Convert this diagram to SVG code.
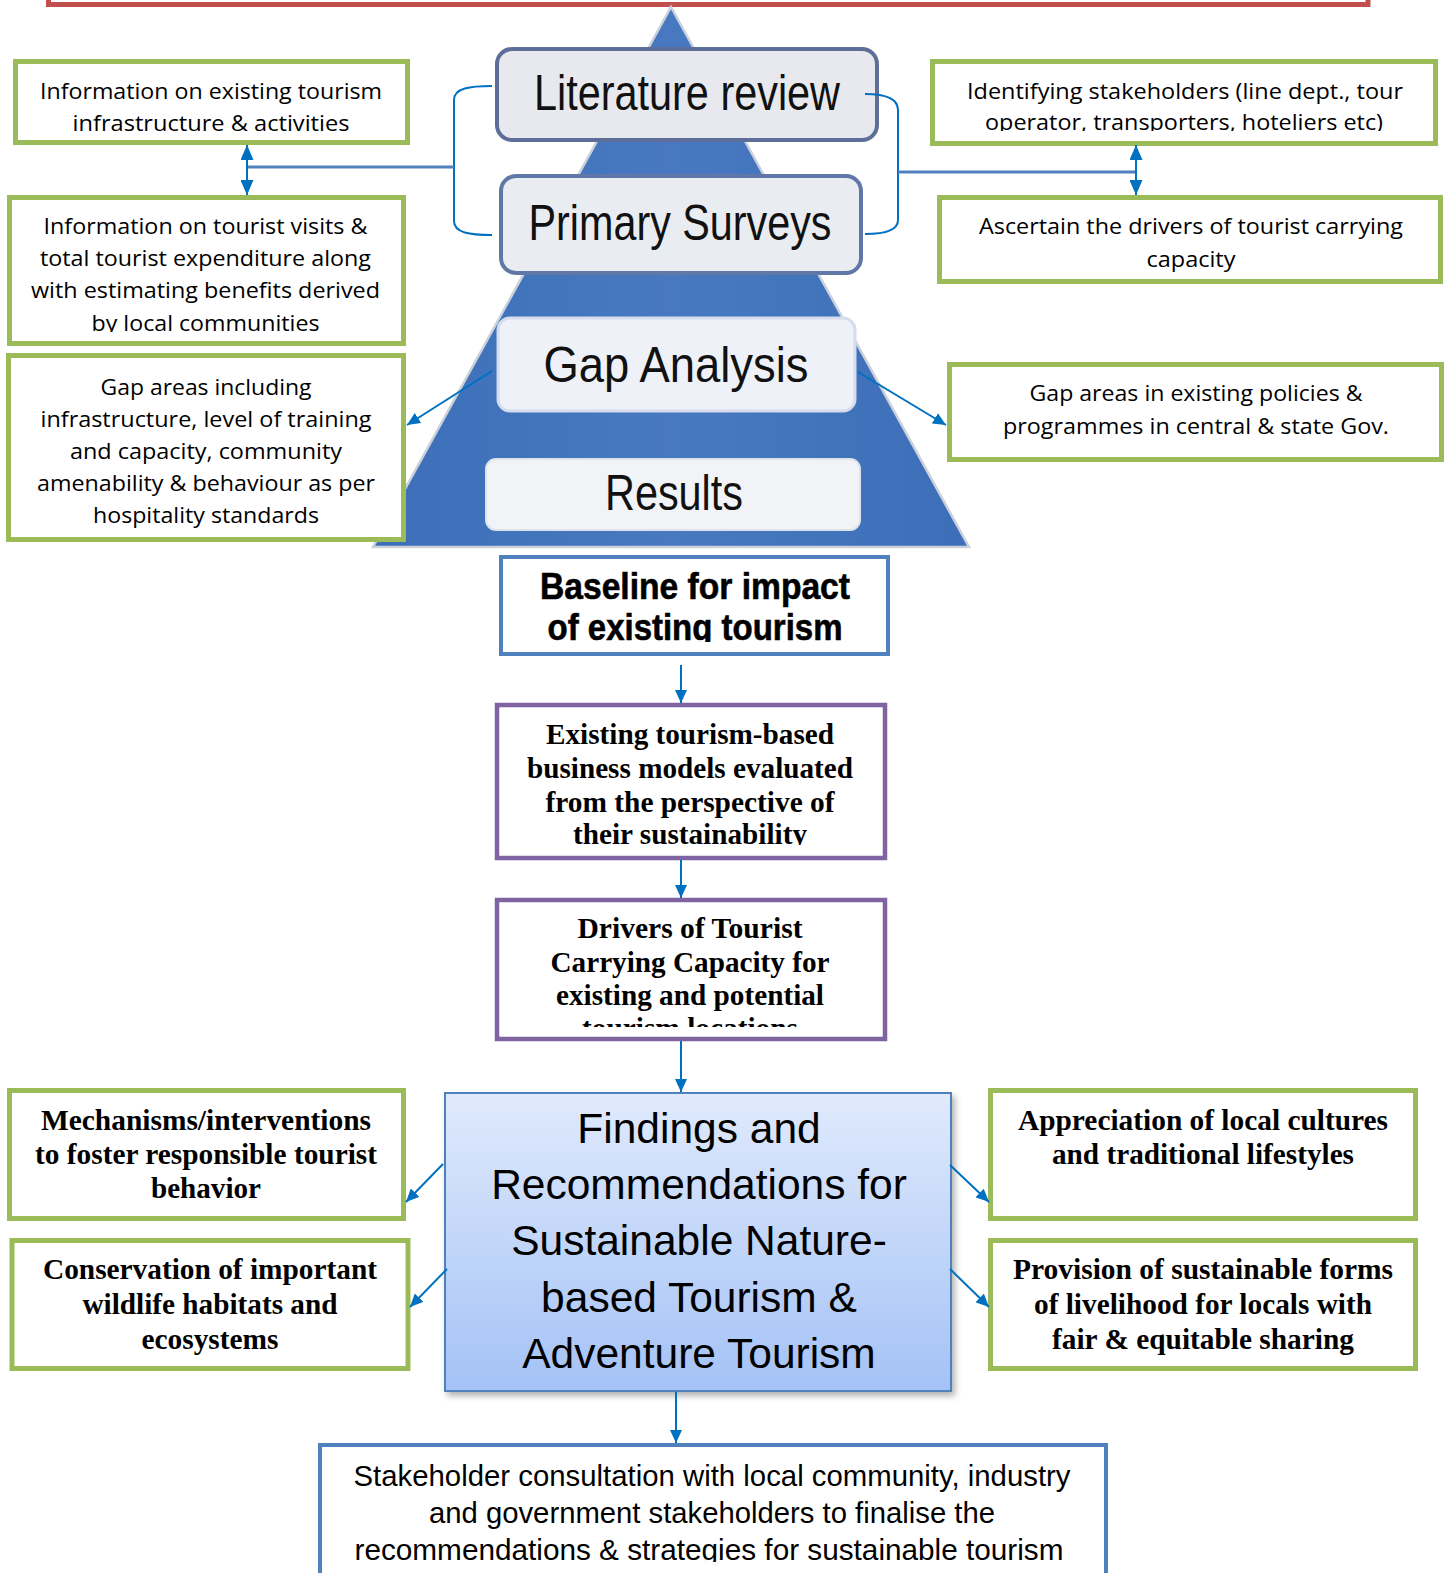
<svg xmlns="http://www.w3.org/2000/svg" width="1449" height="1573" viewBox="0 0 1449 1573">
<defs>
<style>
.g{fill:#fff;stroke:#9bbb59;stroke-width:5}
.p{fill:#fff;stroke:#8064a2;stroke-width:4.5}
.b{fill:#fff;stroke:#4f81bd;stroke-width:4}
.cal{font-family:"Open Sans","Noto Sans",sans-serif;font-size:22px;fill:#000;text-anchor:middle}
.tb{font-family:"Liberation Serif","Times New Roman",serif;font-weight:bold;font-size:30px;fill:#000;text-anchor:middle}
.ar{font-family:"Liberation Sans",Arial,sans-serif;fill:#000;text-anchor:middle}
.pyr{font-family:"Liberation Sans",Arial,sans-serif;font-size:50px;fill:#111;text-anchor:middle}
.thin{fill:none;stroke:#0070c0;stroke-width:2}
.thick{fill:none;stroke:#4f81bd;stroke-width:3}
.arr{fill:none;stroke:#0070c0;stroke-width:2;marker-end:url(#ah)}
.dbl{fill:none;stroke:#0070c0;stroke-width:2;marker-start:url(#ah2);marker-end:url(#ah2)}
</style>
<marker id="ah" markerWidth="13" markerHeight="12" refX="13" refY="6" orient="auto-start-reverse" markerUnits="userSpaceOnUse">
<path d="M0,0 L13,6 L0,12 z" fill="#0070c0"/>
</marker>
<marker id="ah2" markerWidth="15" markerHeight="13" refX="15" refY="6.5" orient="auto-start-reverse" markerUnits="userSpaceOnUse">
<path d="M0,0 L15,6.5 L0,13 z" fill="#0070c0"/>
</marker>
<linearGradient id="fg" x1="0" y1="0" x2="0" y2="1">
<stop offset="0" stop-color="#e0eafc"/>
<stop offset="1" stop-color="#a4c2f6"/>
</linearGradient>
<linearGradient id="pg" x1="0" y1="0" x2="1" y2="0">
<stop offset="0" stop-color="#3c6fb8"/>
<stop offset="0.5" stop-color="#4879c0"/>
<stop offset="1" stop-color="#3c6fb8"/>
</linearGradient>
<filter id="sh" x="-5%" y="-5%" width="115%" height="115%">
<feDropShadow dx="3" dy="4" stdDeviation="3" flood-color="#000" flood-opacity="0.3"/>
</filter>
<clipPath id="c1"><rect x="0" y="0" width="1449" height="332"/></clipPath>
<clipPath id="c2"><rect x="0" y="0" width="1449" height="131"/></clipPath>
<clipPath id="c3"><rect x="0" y="0" width="1449" height="642"/></clipPath>
<clipPath id="c4"><rect x="0" y="0" width="1449" height="845"/></clipPath>
<clipPath id="c5"><rect x="0" y="0" width="1449" height="1027"/></clipPath>
<clipPath id="c6"><rect x="0" y="0" width="1449" height="1562"/></clipPath>
</defs>

<g id="frame-top">
<rect x="48.5" y="-20" width="1319.5" height="24.5" fill="none" stroke="#c0504d" stroke-width="5"/>
</g>

<g id="pyramid">
<polygon points="671,7 373,547 969,547" fill="url(#pg)" stroke="#cbd1da" stroke-width="2.5"/>
</g>

<g id="literature-review">
<rect x="497" y="49" width="380" height="91" rx="15" fill="#e7e9ee" stroke="#5d6f98" stroke-width="4"/>
<text class="pyr" x="687" y="110" textLength="306" lengthAdjust="spacingAndGlyphs">Literature review</text>
</g>
<g id="primary-surveys">
<rect x="501" y="176" width="360" height="97" rx="15" fill="#e9ecf1" stroke="#5f78a8" stroke-width="4"/>
<text class="pyr" x="680" y="240" textLength="303" lengthAdjust="spacingAndGlyphs">Primary Surveys</text>
</g>
<g id="gap-analysis">
<rect x="498" y="318" width="357" height="93" rx="12" fill="#eef1f7" stroke="#d5dced" stroke-width="3"/>
<text class="pyr" x="676" y="382" textLength="265" lengthAdjust="spacingAndGlyphs">Gap Analysis</text>
</g>
<g id="results">
<rect x="486" y="459" width="374" height="71" rx="10" fill="#f1f3f7" stroke="#dde3ec" stroke-width="2"/>
<text class="pyr" x="674" y="510" textLength="138" lengthAdjust="spacingAndGlyphs">Results</text>
</g>

<g id="info-infrastructure">
<rect class="g" x="15.5" y="61.5" width="392" height="81"/>
<text class="cal" x="211" y="99" textLength="342" lengthAdjust="spacingAndGlyphs">Information on existing tourism</text>
<text class="cal" x="211" y="131" textLength="277" lengthAdjust="spacingAndGlyphs">infrastructure &amp; activities</text>
</g>
<g id="info-visits">
<rect class="g" x="9.5" y="197.5" width="394" height="146"/>
<text class="cal" x="205.5" y="234" textLength="324" lengthAdjust="spacingAndGlyphs">Information on tourist visits &amp;</text>
<text class="cal" x="205.5" y="266" textLength="331" lengthAdjust="spacingAndGlyphs">total tourist expenditure along</text>
<text class="cal" x="205.5" y="298" textLength="349" lengthAdjust="spacingAndGlyphs">with estimating benefits derived</text>
<text class="cal" x="205.5" y="331" textLength="228" lengthAdjust="spacingAndGlyphs" clip-path="url(#c1)">by local communities</text>
</g>
<g id="gap-areas-infra">
<rect class="g" x="8.5" y="355.5" width="395" height="184"/>
<text class="cal" x="206" y="395" textLength="211" lengthAdjust="spacingAndGlyphs">Gap areas including</text>
<text class="cal" x="206" y="427" textLength="331" lengthAdjust="spacingAndGlyphs">infrastructure, level of training</text>
<text class="cal" x="206" y="459" textLength="272" lengthAdjust="spacingAndGlyphs">and capacity, community</text>
<text class="cal" x="206" y="491" textLength="338" lengthAdjust="spacingAndGlyphs">amenability &amp; behaviour as per</text>
<text class="cal" x="206" y="523" textLength="226" lengthAdjust="spacingAndGlyphs">hospitality standards</text>
</g>
<g id="stakeholders">
<rect class="g" x="932.5" y="61.5" width="503" height="82"/>
<text class="cal" x="1185" y="99" textLength="436" lengthAdjust="spacingAndGlyphs">Identifying stakeholders (line dept., tour</text>
<text class="cal" x="1184" y="130" textLength="398" lengthAdjust="spacingAndGlyphs" clip-path="url(#c2)">operator, transporters, hoteliers etc)</text>
</g>
<g id="drivers-capacity">
<rect class="g" x="939.5" y="197.5" width="501" height="84"/>
<text class="cal" x="1191" y="234" textLength="424" lengthAdjust="spacingAndGlyphs">Ascertain the drivers of tourist carrying</text>
<text class="cal" x="1191" y="267" textLength="89" lengthAdjust="spacingAndGlyphs">capacity</text>
</g>
<g id="gap-policies">
<rect class="g" x="949.5" y="364.5" width="492" height="95"/>
<text class="cal" x="1196" y="401" textLength="333" lengthAdjust="spacingAndGlyphs">Gap areas in existing policies &amp;</text>
<text class="cal" x="1196" y="434" textLength="386" lengthAdjust="spacingAndGlyphs">programmes in central &amp; state Gov.</text>
</g>

<g id="baseline">
<rect class="b" x="501" y="557" width="387" height="97"/>
<g clip-path="url(#c3)">
<text class="ar" x="695" y="599" font-size="36" font-weight="bold" stroke="#000" stroke-width="0.6" textLength="310" lengthAdjust="spacingAndGlyphs">Baseline for impact</text>
<text class="ar" x="695" y="640" font-size="36" font-weight="bold" stroke="#000" stroke-width="0.6" textLength="295" lengthAdjust="spacingAndGlyphs">of existing tourism</text>
</g>
</g>
<g id="business-models">
<rect class="p" x="497" y="705" width="388" height="153"/>
<text class="tb" x="690" y="744" textLength="288" lengthAdjust="spacingAndGlyphs">Existing tourism-based</text>
<text class="tb" x="690" y="778" textLength="326" lengthAdjust="spacingAndGlyphs">business models evaluated</text>
<text class="tb" x="690" y="812" textLength="289" lengthAdjust="spacingAndGlyphs">from the perspective of</text>
<text class="tb" x="690" y="844" textLength="234" lengthAdjust="spacingAndGlyphs" clip-path="url(#c4)">their sustainability</text>
</g>
<g id="drivers-tcc">
<rect class="p" x="497" y="900" width="388" height="139"/>
<text class="tb" x="690" y="938" textLength="225" lengthAdjust="spacingAndGlyphs">Drivers of Tourist</text>
<text class="tb" x="690" y="972" textLength="279" lengthAdjust="spacingAndGlyphs">Carrying Capacity for</text>
<text class="tb" x="690" y="1005" textLength="268" lengthAdjust="spacingAndGlyphs">existing and potential</text>
<text class="tb" x="690" y="1038" textLength="216" lengthAdjust="spacingAndGlyphs" clip-path="url(#c5)">tourism locations</text>
</g>

<g id="findings">
<rect x="445" y="1093" width="506" height="298" fill="url(#fg)" stroke="#4f81bd" stroke-width="2" filter="url(#sh)"/>
<text class="ar" x="699" y="1143" font-size="42.5">Findings and</text>
<text class="ar" x="699" y="1199" font-size="42.5">Recommendations for</text>
<text class="ar" x="699" y="1255" font-size="42.5">Sustainable Nature-</text>
<text class="ar" x="699" y="1312" font-size="42.5">based Tourism &amp;</text>
<text class="ar" x="699" y="1368" font-size="42.5">Adventure Tourism</text>
</g>

<g id="mechanisms">
<rect class="g" x="9.5" y="1090.5" width="394" height="128"/>
<text class="tb" x="206" y="1130" textLength="330" lengthAdjust="spacingAndGlyphs">Mechanisms/interventions</text>
<text class="tb" x="206" y="1164" textLength="342" lengthAdjust="spacingAndGlyphs">to foster responsible tourist</text>
<text class="tb" x="206" y="1198" textLength="110" lengthAdjust="spacingAndGlyphs">behavior</text>
</g>
<g id="conservation">
<rect class="g" x="12" y="1240.5" width="396" height="128"/>
<text class="tb" x="210" y="1279" textLength="334" lengthAdjust="spacingAndGlyphs">Conservation of important</text>
<text class="tb" x="210" y="1314" textLength="255" lengthAdjust="spacingAndGlyphs">wildlife habitats and</text>
<text class="tb" x="210" y="1349" textLength="137" lengthAdjust="spacingAndGlyphs">ecosystems</text>
</g>
<g id="appreciation">
<rect class="g" x="990.5" y="1090.5" width="425" height="128"/>
<text class="tb" x="1203" y="1130" textLength="370" lengthAdjust="spacingAndGlyphs">Appreciation of local cultures</text>
<text class="tb" x="1203" y="1164" textLength="302" lengthAdjust="spacingAndGlyphs">and traditional lifestyles</text>
</g>
<g id="provision">
<rect class="g" x="990.5" y="1240.5" width="425" height="128"/>
<text class="tb" x="1203" y="1279" textLength="380" lengthAdjust="spacingAndGlyphs">Provision of sustainable forms</text>
<text class="tb" x="1203" y="1314" textLength="338" lengthAdjust="spacingAndGlyphs">of livelihood for locals with</text>
<text class="tb" x="1203" y="1349" textLength="302" lengthAdjust="spacingAndGlyphs">fair &amp; equitable sharing</text>
</g>

<g id="consultation">
<rect class="b" x="320" y="1445" width="786" height="150"/>
<g clip-path="url(#c6)">
<text class="ar" x="712" y="1486" font-size="29" textLength="717" lengthAdjust="spacingAndGlyphs">Stakeholder consultation with local community, industry</text>
<text class="ar" x="712" y="1523" font-size="29" textLength="566" lengthAdjust="spacingAndGlyphs">and government stakeholders to finalise the</text>
<text class="ar" x="709" y="1560" font-size="29" textLength="709" lengthAdjust="spacingAndGlyphs">recommendations &amp; strategies for sustainable tourism</text>
</g>
</g>

<g id="connectors">
<path class="thin" d="M492,86 C470,86 454,88 454,100 L454,221 C454,233 470,235 492,235"/>
<path class="thick" d="M454,167 L247,167"/>
<path class="dbl" d="M247,145 L247,195"/>
<path class="thin" d="M865,94 C883,94 898,97 898,110 L898,220 C898,231 883,234 865,234"/>
<path class="thick" d="M898,172 L1136,172"/>
<path class="dbl" d="M1136,145 L1136,195"/>
<path class="arr" d="M492,371 L407,425"/>
<path class="arr" d="M858,372 L946,425"/>
<path class="arr" d="M681,665 L681,703"/>
<path class="arr" d="M681,860 L681,898"/>
<path class="arr" d="M681,1041 L681,1092"/>
<path class="arr" d="M676,1392 L676,1443"/>
<path class="arr" d="M443,1164 L406,1202"/>
<path class="arr" d="M447,1269 L410,1307"/>
<path class="arr" d="M950,1165 L989,1202"/>
<path class="arr" d="M950,1269 L989,1307"/>
</g>
</svg>
